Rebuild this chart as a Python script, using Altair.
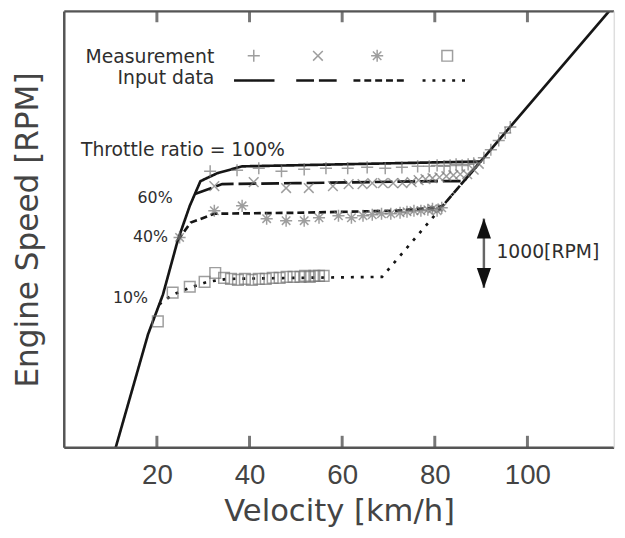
import altair as alt
import pandas as pd

# ---------------- data ----------------
series = ["100%", "60%", "40%", "10%"]

# Input data (model) lines: velocity [km/h] / engine speed [RPM]
line100_v = [11.1, 18.1, 21.3, 24.5, 27.1, 29.4, 33.0, 38.4, 89.9, 117.6]
line100_r = [2900, 4539, 5109, 5893, 6392, 6748, 6862, 6962, 7033, 9200]
line60_v = [28.2, 34.1, 50.1, 79.9, 86.3, 89.9]
line60_r = [6563, 6706, 6720, 6748, 6749, 7033]
line40_v = [24.5, 27.3, 32.4, 50.1, 71.4, 79.9, 81.7, 89.9]
line40_r = [5893, 6150, 6278, 6292, 6321, 6363, 6392, 7033]
line10_v = [20.5, 23.4, 27.1, 30.9, 35.2, 50.1, 68.6, 89.9]
line10_r = [4967, 5109, 5209, 5294, 5337, 5352, 5366, 7033]

# Measurements
meas100_v = [31.5, 37.3, 42.0, 46.9, 51.8, 56.5, 61.2, 65.4, 69.3, 72.9, 76.3, 78.8,
             80.5, 82.0, 83.3, 84.6, 85.9, 87.2, 88.4, 90.6, 92.1, 93.8, 95.2, 96.3]
meas100_r = [6891, 6905, 6934, 6891, 6919, 6934, 6934, 6948, 6934, 6948, 6962, 6962,
             6976, 6962, 6976, 6991, 6976, 6991, 7005, 7085, 7202, 7335, 7445, 7530]
meas60_v = [32.4, 40.9, 47.9, 52.8, 58.0, 61.4, 64.4, 66.5, 68.8, 71.0, 73.0, 75.0,
            76.5, 78.0, 79.5, 81.0, 82.5, 84.0, 85.5, 87.0, 88.4, 89.5]
meas60_r = [6677, 6734, 6649, 6649, 6677, 6706, 6706, 6720, 6720, 6720, 6720, 6734,
            6763, 6777, 6791, 6805, 6820, 6834, 6848, 6848, 6913, 6999]
meas40_v = [24.9, 32.4, 38.4, 43.7, 47.9, 51.8, 55.0, 59.2, 62.0, 64.5, 66.5, 68.5,
            70.5, 72.5, 74.0, 75.5, 77.0, 78.5, 79.5, 80.5, 81.5]
meas40_r = [5936, 6321, 6392, 6207, 6178, 6178, 6221, 6249, 6221, 6249, 6264, 6278,
            6278, 6292, 6306, 6321, 6321, 6335, 6349, 6321, 6363]
meas10_v = [20.2, 23.4, 27.1, 30.3, 32.6, 34.5, 36.0, 37.5, 39.0, 40.5, 42.0, 43.5,
            45.0, 46.5, 48.0, 49.5, 51.0, 52.0, 53.0, 54.0, 55.0, 56.0]
meas10_r = [4724, 5138, 5223, 5294, 5423, 5352, 5337, 5323, 5337, 5323, 5337, 5337,
            5352, 5352, 5366, 5366, 5366, 5380, 5366, 5380, 5380, 5380]

x_ticks = [20, 40, 60, 80, 100]
x_domain = [0, 118.7]
y_domain = [2900, 9200]

# 1000 RPM scale arrow
arrow_v = 90.6
arrow_lo = 5209
arrow_hi = 6207

# annotations (anchored in data coordinates)
ann_left_text = ["Throttle ratio = 100%", "1000[RPM]"]
ann_left_v = [3.6, 93.3]
ann_left_r = [7204, 5722]
ann_right_text = ["60%", "40%", "10%"]
ann_right_v = [23.4, 22.4, 18.1]
ann_right_r = [6506, 5936, 5066]

# ---------------- tables ----------------
def rows(name, vs, rs):
    return [{"series": name, "v": v, "r": r, "idx": i} for i, (v, r) in enumerate(zip(vs, rs))]

lines_df = pd.DataFrame(
    rows("100%", line100_v, line100_r) + rows("60%", line60_v, line60_r)
    + rows("40%", line40_v, line40_r) + rows("10%", line10_v, line10_r)
)
meas_df = pd.DataFrame(
    rows("100%", meas100_v, meas100_r) + rows("60%", meas60_v, meas60_r)
    + rows("40%", meas40_v, meas40_r) + rows("10%", meas10_v, meas10_r)
)
ticks_df = pd.DataFrame({"v": x_ticks})
one = pd.DataFrame({"a": [0]})

W, H = 557, 442
FONT = "DejaVu Sans"
AXFONT = "Liberation Sans"
TXT = "#2e2e2e"
LINE = "#161616"
MARK = "#767676"

PLUS = "M-1,0L1,0M0,-1L0,1"
CROSS = "M-0.8,-0.8L0.8,0.8M-0.8,0.8L0.8,-0.8"
STAR = "M-1,0L1,0M0,-1L0,1M-0.7,-0.7L0.7,0.7M-0.7,0.7L0.7,-0.7"
SQUARE = "M-0.88,-0.88L0.88,-0.88L0.88,0.88L-0.88,0.88Z"
shapes = [PLUS, CROSS, STAR, SQUARE]
dashes = [[1, 0], [18, 5], [7, 4], [3, 7]]

xs = alt.Scale(domain=x_domain, nice=False, zero=False)
ys = alt.Scale(domain=y_domain, nice=False, zero=False)

x_axis = alt.Axis(values=x_ticks, grid=False, domain=False, ticks=False, tickSize=0,
                  labelFont=AXFONT, labelFontSize=28, labelColor="#444444",
                  labelPadding=14, title="Velocity [km/h]", titleFont=FONT,
                  titleFontSize=31, titleFontWeight="normal", titleColor="#444444",
                  titlePadding=8)
y_axis = alt.Axis(grid=False, domain=False, ticks=False, labels=False, tickSize=0,
                  title="Engine Speed [RPM]", titleFont=FONT, titleFontSize=31.5,
                  titleFontWeight="normal", titleColor="#444444", titlePadding=20)

lines = alt.Chart(lines_df).mark_line(color=LINE, strokeWidth=2.7, clip=True).encode(
    x=alt.X("v:Q", scale=xs, axis=x_axis),
    y=alt.Y("r:Q", scale=ys, axis=y_axis),
    detail="series:N",
    order="idx:Q",
    strokeDash=alt.StrokeDash("series:N", scale=alt.Scale(domain=series, range=dashes), legend=None),
)

points = alt.Chart(meas_df).mark_point(filled=False, strokeWidth=1.5, color=MARK, size=150).encode(
    x=alt.X("v:Q", scale=xs),
    y=alt.Y("r:Q", scale=ys),
    shape=alt.Shape("series:N", scale=alt.Scale(domain=series, range=shapes), legend=None),
)

# inward ticks, bottom and top
ticks_bottom = alt.Chart(ticks_df).mark_rule(color="#777777", strokeWidth=3).encode(
    x=alt.X("v:Q", scale=xs), y=alt.value(H), y2=alt.value(H - 12))
ticks_top = alt.Chart(ticks_df).mark_rule(color="#777777", strokeWidth=3).encode(
    x=alt.X("v:Q", scale=xs), y=alt.value(0), y2=alt.value(11))

# frame
frame_l = alt.Chart(one).mark_rule(color="#555555", strokeWidth=2.5).encode(
    x=alt.value(0), y=alt.value(0), y2=alt.value(H))
frame_b = alt.Chart(one).mark_rule(color="#555555", strokeWidth=2.5).encode(
    x=alt.value(0), x2=alt.value(W), y=alt.value(H))
frame_t = alt.Chart(one).mark_rule(color="#555555", strokeWidth=2.5).encode(
    x=alt.value(0), x2=alt.value(W), y=alt.value(0))
frame_r = alt.Chart(one).mark_rule(color="#dddddd", strokeWidth=1).encode(
    x=alt.value(W), y=alt.value(0), y2=alt.value(H))

# annotations
ann_left_df = pd.DataFrame({"v": ann_left_v, "r": ann_left_r, "t": ann_left_text})
ann_right_df = pd.DataFrame({"v": ann_right_v, "r": ann_right_r, "t": ann_right_text})
ann_left = alt.Chart(ann_left_df).mark_text(align="left", baseline="middle", font=FONT,
                                            fontSize=19, color=TXT).encode(
    x=alt.X("v:Q", scale=xs), y=alt.Y("r:Q", scale=ys), text="t:N")
ann_right = alt.Chart(ann_right_df).mark_text(align="right", baseline="middle", font=FONT,
                                              fontSize=16, color=TXT).encode(
    x=alt.X("v:Q", scale=xs), y=alt.Y("r:Q", scale=ys), text="t:N")

# scale arrow
arrow_df = pd.DataFrame({"v": [arrow_v], "r": [arrow_lo], "r2": [arrow_hi]})
arrow_shaft = alt.Chart(arrow_df).mark_rule(color="#666666", strokeWidth=2.5).encode(
    x=alt.X("v:Q", scale=xs), y=alt.Y("r:Q", scale=ys), y2="r2:Q")
head_up_df = pd.DataFrame({"v": [arrow_v], "r": [arrow_hi - 140]})
head_dn_df = pd.DataFrame({"v": [arrow_v], "r": [arrow_lo + 140]})
head_up = alt.Chart(head_up_df).mark_point(filled=True, color="#111111", size=420, opacity=1,
                                          shape="M0,-1L0.7,1L-0.7,1Z").encode(
    x=alt.X("v:Q", scale=xs), y=alt.Y("r:Q", scale=ys))
head_dn = alt.Chart(head_dn_df).mark_point(filled=True, color="#111111", size=420, opacity=1,
                                          shape="M0,1L0.7,-1L-0.7,-1Z").encode(
    x=alt.X("v:Q", scale=xs), y=alt.Y("r:Q", scale=ys))

# custom legend (top-left block)
leg_text = [
    alt.Chart(one).mark_text(align="right", baseline="middle", font=FONT, fontSize=19, color=TXT,
                             text="Measurement").encode(x=alt.value(152), y=alt.value(46)),
    alt.Chart(one).mark_text(align="right", baseline="middle", font=FONT, fontSize=19, color=TXT,
                             text="Input data").encode(x=alt.value(152), y=alt.value(68)),
]
leg_sym_x = [192, 257, 317, 388]
leg_syms = [
    alt.Chart(one).mark_point(filled=False, strokeWidth=1.5, color=MARK, size=150, shape=s).encode(
        x=alt.value(px), y=alt.value(45))
    for s, px in zip(shapes, leg_sym_x)
]
leg_line_x = [(172, 213), (235, 278), (293, 348), (363, 412)]
leg_lines = [
    alt.Chart(one).mark_rule(color=LINE, strokeWidth=2.7, strokeDash=d).encode(
        x=alt.value(a), x2=alt.value(b), y=alt.value(70))
    for d, (a, b) in zip(dashes, leg_line_x)
]

chart = alt.layer(
    lines, points, ticks_bottom, ticks_top, frame_l, frame_b, frame_t, frame_r,
    ann_left, ann_right, arrow_shaft, head_up, head_dn, *leg_text, *leg_syms, *leg_lines
).properties(
    width=W, height=H,
    autosize=alt.AutoSizeParams(type="none"),
    padding={"left": 57, "top": 0, "right": 3, "bottom": 80},
).configure_view(stroke=None).configure(background="white")

chart.save("out.html", embed_options={"renderer": "svg", "actions": False})
